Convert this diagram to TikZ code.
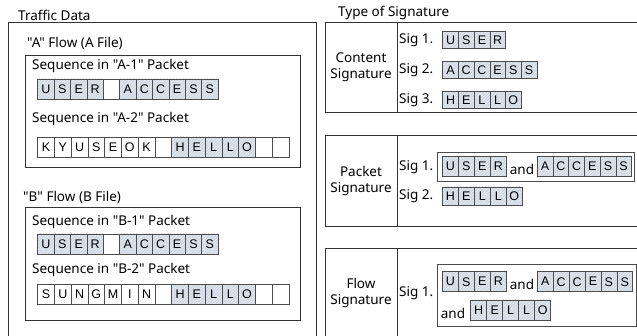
\documentclass[tikz,border=0pt]{standalone}
\usepackage{fontspec}
\newfontfamily\plainf{Noto Sans}
\newfontfamily\cellfont{Liberation Sans}
\usetikzlibrary{patterns.meta}
\definecolor{cellblue}{HTML}{DCE6F2}
\newcommand\qt{\char34\relax}
\tikzset{
  boxline/.style={draw=black!80, line width=0.8pt},
  lbl/.style={anchor=west, inner sep=0pt, font=\plainf\fontsize{13.5}{15}\selectfont},
  andlbl/.style={inner sep=0pt, anchor=base, font=\plainf\fontsize{13.5}{15}\selectfont},
  sigtype/.style={align=center, inner sep=0pt, font=\plainf\fontsize{13.5}{15.5}\selectfont},
  cbase/.style={draw=black!70, line width=0.6pt, inner sep=0pt, font=\cellfont\fontsize{12.5}{14}\selectfont},
  hc/.style={preaction={fill=cellblue}, pattern={Lines[angle=45,distance=2.2pt,line width=0.35pt]}, pattern color=black!22},
  wc/.style={fill=white},
}
\newcommand\cellrow[6]{%
  \foreach \t/\f [count=\i] in {#6} {
    \node[cbase, minimum width=#4pt, minimum height=#5pt, \f] (#1-\i) at ({#2+(\i-0.5)*#4}, #3) {\t};
  }}
\begin{document}
\begin{tikzpicture}[x=1pt, y=-1pt]
\useasboundingbox (0,0) rectangle (637,336);
\clip (0,0) rectangle (637,336);
% ---------- left side ----------
\node[lbl] (tdl) at (18,15) {Traffic Data};
\draw[boxline] (8,22) rectangle (316,360);
\node[lbl] (afl) at (27,43) {\qt A\qt{} Flow (A File)};
\draw[boxline] (25,55) rectangle (300,167);
\node[lbl] (sa1) at (32,66) {Sequence in \qt A-1\qt{} Packet};
\cellrow{a1}{37.7}{89}{16.4}{20}{U/hc,S/hc,E/hc,R/hc,/wc,A/hc,C/hc,C/hc,E/hc,S/hc,S/hc}
\node[lbl] (sa2) at (32,119) {Sequence in \qt A-2\qt{} Packet};
\cellrow{a2}{37.7}{147}{16.75}{20}{K/wc,Y/wc,U/wc,S/wc,E/wc,O/wc,K/wc,/wc,H/hc,E/hc,L/hc,L/hc,O/hc,/wc,/wc}
\node[lbl] (bfl) at (23,197) {\qt B\qt{} Flow (B File)};
\draw[boxline] (25,207) rectangle (300,320);
\node[lbl] (sb1) at (32,222) {Sequence in \qt B-1\qt{} Packet};
\cellrow{b1}{37.7}{244}{16.4}{20}{U/hc,S/hc,E/hc,R/hc,/wc,A/hc,C/hc,C/hc,E/hc,S/hc,S/hc}
\node[lbl] (sb2) at (32,270) {Sequence in \qt B-2\qt{} Packet};
\cellrow{b2}{37.7}{294.5}{16.75}{20}{S/wc,U/wc,N/wc,G/wc,M/wc,I/wc,N/wc,/wc,H/hc,E/hc,L/hc,L/hc,O/hc,/wc,/wc}
% ---------- right side ----------
\node[lbl] (tsl) at (338,13) {Type of Signature};
% content
\draw[boxline] (325,22) rectangle (660,112);
\draw[boxline] (397,22) -- (397,112);
\node[sigtype] (cs) at (361,67) {Content\\Signature};
\node[lbl] (c1) at (399,40) {Sig 1.};
\cellrow{cs1}{442.7}{40}{15.7}{17}{U/hc,S/hc,E/hc,R/hc}
\node[lbl] (c2) at (399,70) {Sig 2.};
\cellrow{cs2}{442.7}{70}{15.7}{17}{A/hc,C/hc,C/hc,E/hc,S/hc,S/hc}
\node[lbl] (c3) at (399,100) {Sig 3.};
\cellrow{cs3}{442.7}{100}{15.7}{17}{H/hc,E/hc,L/hc,L/hc,O/hc}
% packet
\draw[boxline] (325,135) rectangle (660,226);
\draw[boxline] (397,135) -- (397,226);
\node[sigtype] (ps) at (361,181) {Packet\\Signature};
\draw[draw=black!70, line width=0.7pt] (437,152.7) rectangle (634,181);
\node[lbl] (p1) at (399,167) {Sig 1.};
\cellrow{ps1}{442.3}{166.7}{16}{20}{U/hc,S/hc,E/hc,R/hc}
\node[andlbl] (pand) at (522,175) {and};
\cellrow{ps1b}{537.3}{166.7}{15.7}{20}{A/hc,C/hc,C/hc,E/hc,S/hc,S/hc}
\node[lbl] (p2) at (399,196) {Sig 2.};
\cellrow{ps2}{442.3}{196}{16}{18}{H/hc,E/hc,L/hc,L/hc,O/hc}
% flow
\draw[boxline] (325,248) rectangle (660,360);
\draw[boxline] (397,248) -- (397,360);
\node[sigtype] (fs) at (361,293) {Flow\\Signature};
\draw[draw=black!70, line width=0.7pt] (437,264) rectangle (636,326);
\node[lbl] (f1) at (399,293) {Sig 1.};
\cellrow{fs1}{442.3}{281.7}{16}{20}{U/hc,S/hc,E/hc,R/hc}
\node[andlbl] (fand1) at (522,290) {and};
\cellrow{fs1b}{537.3}{281.7}{15.9}{20}{A/hc,C/hc,C/hc,E/hc,S/hc,S/hc}
\node[andlbl] (fand2) at (453,319) {and};
\cellrow{fs2}{470.7}{310}{16}{20}{H/hc,E/hc,L/hc,L/hc,O/hc}
\end{tikzpicture}
\end{document}
